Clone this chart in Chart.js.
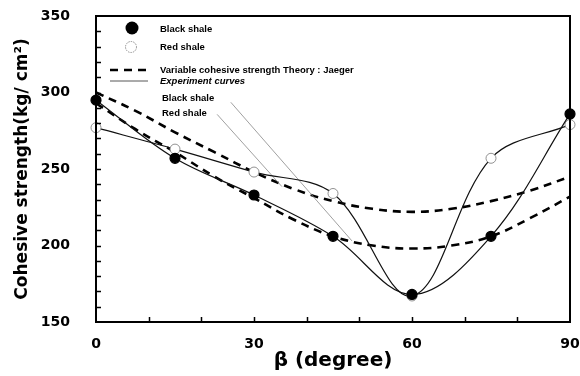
<!DOCTYPE html>
<html>
<head>
<meta charset="utf-8">
<script src="https://cdn.jsdelivr.net/npm/chart.js@4"></script>
<style>
  html, body { margin: 0; padding: 0; background: #fff; }
</style>
</head>
<body>
<canvas id="chart" width="580" height="376"></canvas>
<script>
// measured cohesive strength (kg/cm²) at each beta angle
const beta = [0, 15, 30, 45, 60, 75, 90];
const blackShale = [295, 257, 233, 206, 168, 206, 286];
const redShale = [277, 263, 248, 234, 167, 257, 279];

// Jaeger variable cohesive strength theory, read every 7.5 degrees
const betaTheory = [0, 7.5, 15, 22.5, 30, 37.5, 45, 52.5, 60, 67.5, 75, 82.5, 90];
const theoryRed = [300, 288, 274, 261, 248, 237, 229, 224, 222, 224, 229, 236, 245];
const theoryBlack = [293, 276, 261, 245, 231, 217, 206, 200, 198, 200, 206, 218, 232];

// leader lines from the "Black shale" / "Red shale" labels
const leaderBlackX = [25.6, 48.6];
const leaderBlackY = [293.6, 203];
const leaderRedX = [23, 35.3];
const leaderRedY = [285.7, 238.5];

const xTickLabels = [0, 30, 60, 90];
const yTickLabels = [150, 200, 250, 300, 350];

const pts = (xs, ys) => xs.map((x, i) => ({ x: x, y: ys[i] }));

const legendFont = 'bold 9.5px "Liberation Sans", Arial, sans-serif';

// box, inward ticks and the hand laid-out legend
const framePlugin = {
    id: 'frame',
    afterDraw(chart) {
        const ctx = chart.ctx;
        const a = chart.chartArea;
        const xs = chart.scales.x, ys = chart.scales.y;
        ctx.save();
        ctx.strokeStyle = '#000';
        ctx.lineWidth = 2;
        ctx.strokeRect(a.left, a.top, a.right - a.left, a.bottom - a.top);

        ctx.lineWidth = 1.5;
        ctx.beginPath();
        for (let v = 10; v < 90; v += 10) {
            const px = Math.round(xs.getPixelForValue(v)) + 0.5;
            ctx.moveTo(px, a.bottom);
            ctx.lineTo(px, a.bottom - 5);
        }
        for (let v = 160; v < 350; v += 10) {
            const py = Math.round(ys.getPixelForValue(v)) + 0.5;
            ctx.moveTo(a.left, py);
            ctx.lineTo(a.left + 5, py);
        }
        ctx.stroke();

        // legend symbols
        ctx.fillStyle = '#000';
        ctx.beginPath();
        ctx.arc(132, 28, 6.5, 0, Math.PI * 2);
        ctx.fill();

        ctx.strokeStyle = '#777';
        ctx.lineWidth = 0.8;
        ctx.setLineDash([1.5, 1]);
        ctx.beginPath();
        ctx.arc(131, 47, 5.5, 0, Math.PI * 2);
        ctx.stroke();

        ctx.strokeStyle = '#000';
        ctx.lineWidth = 2.6;
        ctx.setLineDash([8, 6]);
        ctx.beginPath();
        ctx.moveTo(110, 70);
        ctx.lineTo(150, 70);
        ctx.stroke();

        ctx.setLineDash([]);
        ctx.strokeStyle = '#444';
        ctx.lineWidth = 0.9;
        ctx.beginPath();
        ctx.moveTo(110, 81);
        ctx.lineTo(148, 81);
        ctx.stroke();

        // legend text
        ctx.fillStyle = '#000';
        ctx.textBaseline = 'middle';
        ctx.textAlign = 'left';
        ctx.font = legendFont;
        ctx.fillText('Black shale', 160, 29);
        ctx.fillText('Red shale', 160, 47);
        ctx.fillText('Variable cohesive strength Theory : Jaeger', 160, 70);
        ctx.fillText('Black shale', 162, 98);
        ctx.fillText('Red shale', 162, 113);
        ctx.font = 'italic ' + legendFont;
        ctx.fillText('Experiment curves', 160, 81);
        ctx.restore();
    }
};

const tickFont = { family: 'DejaVu Sans', size: 14, weight: 'bold' };

new Chart(document.getElementById('chart'), {
    type: 'line',
    data: {
        datasets: [
            {
                data: pts(beta, blackShale),
                borderColor: '#111',
                borderWidth: 1.2,
                tension: 0.35,
                pointRadius: 5,
                pointBackgroundColor: '#000',
                pointBorderColor: '#000',
                clip: false,
                order: 0
            },
            {
                data: pts(beta, redShale),
                borderColor: '#111',
                borderWidth: 1.2,
                tension: 0.35,
                pointRadius: 5,
                pointBackgroundColor: '#fff',
                pointBorderColor: '#777',
                pointBorderWidth: 0.8,
                clip: false,
                order: 1
            },
            {
                data: pts(leaderBlackX, leaderBlackY),
                borderColor: '#888',
                borderWidth: 0.8,
                pointRadius: 0,
                order: 2
            },
            {
                data: pts(leaderRedX, leaderRedY),
                borderColor: '#888',
                borderWidth: 0.8,
                pointRadius: 0,
                order: 2
            },
            {
                data: pts(betaTheory, theoryRed),
                borderColor: '#000',
                borderWidth: 2.6,
                borderDash: [8, 6],
                tension: 0.4,
                pointRadius: 0,
                order: 3
            },
            {
                data: pts(betaTheory, theoryBlack),
                borderColor: '#000',
                borderWidth: 2.6,
                borderDash: [8, 6],
                tension: 0.4,
                pointRadius: 0,
                order: 3
            }
        ]
    },
    options: {
        responsive: false,
        animation: false,
        layout: { padding: { left: 0, top: 16, right: 10, bottom: 0 } },
        plugins: {
            legend: { display: false },
            tooltip: { enabled: false }
        },
        scales: {
            x: {
                type: 'linear',
                min: 0,
                max: 90,
                afterFit(scale) {
                    scale.height = 54;
                    scale.paddingLeft = 0;
                    scale.paddingRight = 0;
                },
                afterBuildTicks(scale) { scale.ticks = xTickLabels.map(v => ({ value: v })); },
                grid: { display: false },
                border: { display: false },
                ticks: { color: '#000', font: tickFont, padding: 6, maxRotation: 0 },
                title: {
                    display: true,
                    text: 'β (degree)',
                    color: '#000',
                    font: { family: 'DejaVu Sans', size: 20, weight: 'bold' },
                    padding: { bottom: 3 }
                }
            },
            y: {
                type: 'linear',
                min: 150,
                max: 350,
                afterFit(scale) {
                    scale.width = 96;
                    scale.paddingTop = 0;
                    scale.paddingBottom = 0;
                },
                afterBuildTicks(scale) { scale.ticks = yTickLabels.map(v => ({ value: v })); },
                grid: { display: false },
                border: { display: false },
                ticks: { color: '#000', font: tickFont, padding: 18 },
                title: {
                    display: true,
                    text: 'Cohesive strength(kg/ cm²)',
                    color: '#000',
                    font: { family: 'DejaVu Sans', size: 17, weight: 'bold' },
                    padding: { top: 12 }
                }
            }
        }
    },
    plugins: [framePlugin]
});
</script>
</body>
</html>
